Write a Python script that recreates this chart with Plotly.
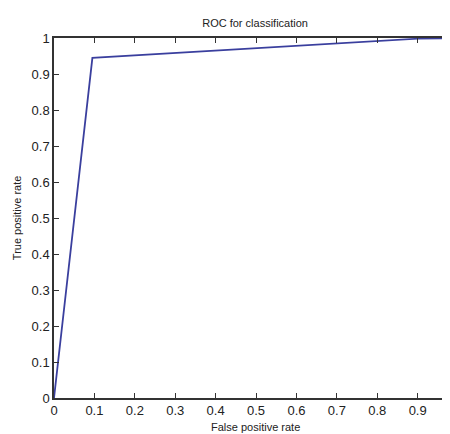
import plotly.graph_objects as go

fpr = [0.0, 0.095, 0.9, 1.0]
tpr = [0.0, 0.945, 0.998, 1.0]
x_ticks = [0, 0.1, 0.2, 0.3, 0.4, 0.5, 0.6, 0.7, 0.8, 0.9]
x_tick_labels = ["0", "0.1", "0.2", "0.3", "0.4", "0.5", "0.6", "0.7", "0.8", "0.9"]
y_ticks = [0, 0.1, 0.2, 0.3, 0.4, 0.5, 0.6, 0.7, 0.8, 0.9, 1]
y_tick_labels = ["0", "0.1", "0.2", "0.3", "0.4", "0.5", "0.6", "0.7", "0.8", "0.9", "1"]

fig = go.Figure()
fig.add_trace(go.Scatter(x=fpr, y=tpr, mode="lines",
                         line=dict(color="#3a3f9e", width=1.8), showlegend=False))

font = "Liberation Sans, Arial, sans-serif"
fig.update_layout(
    width=442, height=426,
    margin=dict(l=46, r=0, t=30, b=36, autoexpand=False),
    paper_bgcolor="white", plot_bgcolor="white",
    title=dict(text="ROC for classification", x=0.559, xanchor="center", y=0.965, yanchor="middle",
               font=dict(family=font, size=11, color="#222")),
    font=dict(family=font, color="#222"),
    annotations=[
        dict(text="False positive rate", xref="paper", yref="paper", x=0.508, y=-0.081,
             xanchor="center", yanchor="middle", showarrow=False,
             font=dict(size=11, family=font, color="#222")),
        dict(text="True positive rate", xref="paper", yref="paper", x=-0.093, y=0.5,
             xanchor="center", yanchor="middle", textangle=-90, showarrow=False,
             font=dict(size=11, family=font, color="#222")),
    ],
)
fig.update_xaxes(range=[0, 0.98], tickvals=x_ticks, ticktext=x_tick_labels, automargin=False,
                 showgrid=False, zeroline=False, showline=True, linecolor="#333", linewidth=1.5,
                 mirror="ticks", ticks="inside", ticklen=5, tickcolor="#333",
                 tickfont=dict(size=13, family=font, color="#222"))
fig.update_yaxes(range=[0, 1], tickvals=y_ticks, ticktext=y_tick_labels, automargin=False,
                 showgrid=False, zeroline=False, showline=True, linecolor="#333", linewidth=1.5,
                 mirror="ticks", ticks="inside", ticklen=5, tickcolor="#333",
                 tickfont=dict(size=13, family=font, color="#222"))
fig.write_html("out.html")
